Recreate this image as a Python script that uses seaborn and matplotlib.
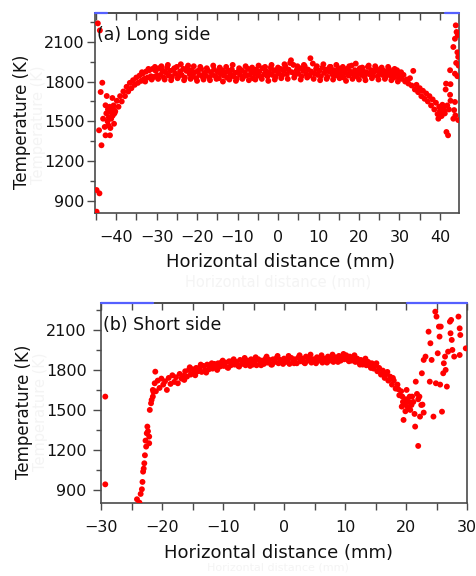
import matplotlib
matplotlib.use("Agg")
import matplotlib.pyplot as plt
import seaborn as sns
import pandas as pd
from matplotlib.ticker import MultipleLocator

# ---------------- data: (a) Long side ----------------
a_band_x = [-41.0,-40.6,-40.2,-39.8,-39.4,-39.0,-38.6,-38.2,-37.8,-37.4,
            -37.0,-36.6,-36.2,-35.8,-35.4,-35.0,-34.6,-34.2,-33.8,-33.4,
            -33.0,-32.6,-32.2,-31.8,-31.4,-31.0,-30.6,-30.2,-29.8,-29.4,
            -29.0,-28.6,-28.2,-27.8,-27.4,-27.0,-26.6,-26.2,-25.8,-25.4,
            -25.0,-24.6,-24.2,-23.8,-23.4,-23.0,-22.6,-22.2,-21.8,-21.4,
            -21.0,-20.6,-20.2,-19.8,-19.4,-19.0,-18.6,-18.2,-17.8,-17.4,
            -17.0,-16.6,-16.2,-15.8,-15.4,-15.0,-14.6,-14.2,-13.8,-13.4,
            -13.0,-12.6,-12.2,-11.8,-11.4,-11.0,-10.6,-10.2,-9.8,-9.4,
            -9.0,-8.6,-8.2,-7.8,-7.4,-7.0,-6.6,-6.2,-5.8,-5.4,
            -5.0,-4.6,-4.2,-3.8,-3.4,-3.0,-2.6,-2.2,-1.8,-1.4,
            -1.0,-0.6,-0.2,0.2,0.6,1.0,1.4,1.8,2.2,2.6,
            3.0,3.4,3.8,4.2,4.6,5.0,5.4,5.8,6.2,6.6,
            7.0,7.4,7.8,8.2,8.6,9.0,9.4,9.8,10.2,10.6,
            11.0,11.4,11.8,12.2,12.6,13.0,13.4,13.8,14.2,14.6,
            15.0,15.4,15.8,16.2,16.6,17.0,17.4,17.8,18.2,18.6,
            19.0,19.4,19.8,20.2,20.6,21.0,21.4,21.8,22.2,22.6,
            23.0,23.4,23.8,24.2,24.6,25.0,25.4,25.8,26.2,26.6,
            27.0,27.4,27.8,28.2,28.6,29.0,29.4,29.8,30.2,30.6,
            31.0,31.4,31.8,32.2,32.6,33.0,33.4,33.8,34.2,34.6,
            35.0,35.4,35.8,36.2,36.6,37.0,37.4,37.8,38.2,38.6,
            39.0,39.4,39.8,40.2,40.6,41.0]
a_band_y = [1540,1620,1575,1655,1610,1690,1650,1725,1690,1760,
            1725,1790,1750,1810,1775,1830,1790,1845,1805,1860,
            1820,1875,1830,1885,1840,1895,1835,1880,1845,1900,
            1850,1885,1830,1870,1905,1845,1880,1835,1890,1860,
            1910,1840,1875,1850,1895,1830,1880,1920,1855,1885,
            1840,1870,1825,1880,1850,1895,1835,1865,1845,1885,
            1830,1870,1850,1890,1840,1875,1825,1860,1885,1845,
            1870,1830,1880,1855,1890,1840,1865,1820,1875,1850,
            1885,1835,1870,1845,1895,1850,1880,1825,1860,1890,
            1845,1875,1835,1900,1855,1880,1840,1870,1905,1850,
            1885,1835,1875,1860,1895,1845,1880,1915,1855,1890,
            1940,1870,1925,1850,1885,1860,1900,1840,1880,1915,
            1855,1890,1845,1875,1935,1860,1895,1850,1880,1840,
            1905,1865,1890,1835,1875,1910,1855,1885,1845,1870,
            1900,1850,1880,1830,1865,1895,1845,1875,1920,1855,
            1885,1840,1870,1900,1850,1880,1835,1870,1910,1855,
            1885,1845,1875,1900,1840,1870,1895,1850,1880,1835,
            1865,1895,1845,1875,1830,1860,1885,1830,1860,1820,
            1850,1800,1815,1785,1825,1770,1880,1740,1775,1720,
            1750,1690,1730,1670,1710,1650,1690,1620,1665,1590,
            1640,1555,1610,1570,1625,1580]

a_extra_x = [-33.6,-32.8,-32.0,-31.2,-30.4,-29.6,-28.8,-28.0,-27.2,-26.4,
             -25.6,-24.8,-24.0,-23.2,-22.4,-21.6,-20.8,-20.0,-19.2,-18.4,
             -17.6,-16.8,-16.0,-15.2,-14.4,-13.6,-12.8,-12.0,-11.2,-10.4,
             -9.6,-8.8,-8.0,-7.2,-6.4,-5.6,-4.8,-4.0,-3.2,-2.4,
             -1.6,-0.8,0.0,0.8,1.6,2.4,3.2,4.0,4.8,5.6,
             6.4,7.2,8.0,8.8,9.6,10.4,11.2,12.0,12.8,13.6,
             14.4,15.2,16.0,16.8,17.6,18.4,19.2,20.0,20.8,21.6,
             22.4,23.2,24.0,24.8,25.6,26.4,27.2,28.0,28.8,29.6,
             30.4]
a_extra_y = [1870,1800,1895,1815,1910,1820,1915,1815,1925,1810,
             1900,1825,1930,1810,1905,1820,1915,1805,1910,1815,
             1900,1810,1920,1820,1905,1800,1910,1815,1925,1805,
             1900,1820,1915,1810,1905,1815,1920,1820,1910,1805,
             1925,1815,1905,1825,1930,1820,1960,1830,1915,1815,
             1925,1830,1975,1820,1915,1810,1930,1820,1910,1815,
             1925,1825,1910,1805,1915,1820,1935,1815,1905,1810,
             1920,1825,1915,1815,1905,1820,1910,1810,1895,1800,
             1870]

a_edge_x = [-44.5,-44.0,-44.8,-44.1,-44.8,-44.2,-43.6,-43.4,-43.8,-42.3,
            -42.6,-43.2,-42.1,-42.8,-42.6,-41.5,-41.3,-40.9,-40.5,-41.8,
            -40.7,-42.4,-41.9,-41.6,-41.2,-40.8,-40.4,-41.4,-42.0,
            41.6,42.0,42.5,42.6,41.5,41.4,42.5,42.6,43.7,43.5,
            43.3,43.8,44.5,43.7,44.3,43.3,43.7,44.1,43.9,44.4,
            44.3,44.5,44.6,44.0,40.4,40.8,41.2,39.6,40.0,41.8,42.2]
a_edge_y = [2238,2185,983,958,820,1433,1320,1791,1721,1691,
            1621,1520,1500,1458,1395,1395,1570,1676,1482,1530,
            1595,1560,1470,1610,1520,1545,1560,1450,1590,
            1420,1395,1885,1780,1784,1740,1700,1655,1646,1585,
            1520,1545,1510,1859,1840,2060,2122,2173,2223,2150,
            2020,1985,1920,1940,1540,1600,1560,1520,1580,1620,1590]

# ---------------- data: (b) Short side ----------------
b_band_x = [-21.0,-20.7,-20.4,-20.1,-19.8,-19.5,-19.2,-18.9,-18.6,-18.3,
            -18.0,-17.7,-17.4,-17.1,-16.8,-16.5,-16.2,-15.9,-15.6,-15.3,
            -15.0,-14.7,-14.4,-14.1,-13.8,-13.5,-13.2,-12.9,-12.6,-12.3,
            -12.0,-11.7,-11.4,-11.1,-10.8,-10.5,-10.2,-9.9,-9.6,-9.3,
            -9.0,-8.7,-8.4,-8.1,-7.8,-7.5,-7.2,-6.9,-6.6,-6.3,
            -6.0,-5.7,-5.4,-5.1,-4.8,-4.5,-4.2,-3.9,-3.6,-3.3,
            -3.0,-2.7,-2.4,-2.1,-1.8,-1.5,-1.2,-0.9,-0.6,-0.3,
            0.0,0.3,0.6,0.9,1.2,1.5,1.8,2.1,2.4,2.7,
            3.0,3.3,3.6,3.9,4.2,4.5,4.8,5.1,5.4,5.7,
            6.0,6.3,6.6,6.9,7.2,7.5,7.8,8.1,8.4,8.7,
            9.0,9.3,9.6,9.9,10.2,10.5,10.8,11.1,11.4,11.7,
            12.0,12.3,12.6,12.9,13.2,13.5,13.8,14.1,14.4,14.7,
            15.0,15.3,15.6,15.9,16.2,16.5,16.8,17.1,17.4,17.7,
            18.0,18.3,18.6,18.9,19.2]
b_band_y = [1640,1720,1665,1735,1690,1715,1650,1740,1695,1760,
            1710,1745,1700,1770,1735,1755,1790,1750,1800,1765,
            1805,1780,1815,1790,1820,1785,1830,1800,1840,1805,
            1835,1810,1845,1820,1850,1825,1860,1830,1855,1820,
            1865,1835,1870,1840,1860,1830,1875,1845,1865,1835,
            1870,1850,1880,1840,1865,1835,1880,1855,1870,1845,
            1885,1855,1875,1840,1880,1860,1890,1850,1875,1855,
            1885,1860,1880,1845,1890,1865,1880,1850,1895,1865,
            1885,1855,1900,1870,1890,1855,1880,1860,1895,1870,
            1890,1855,1885,1865,1900,1870,1890,1860,1895,1875,
            1905,1870,1895,1880,1910,1875,1900,1870,1895,1860,
            1885,1855,1875,1840,1870,1835,1860,1830,1850,1810,
            1835,1790,1815,1765,1795,1740,1770,1720,1750,1690,
            1720,1660,1690,1610,1640]

b_extra_x = [-16.35,-15.45,-14.55,-13.65,-12.75,-11.85,-10.95,-10.05,-9.15,-8.25,
             -7.35,-6.45,-5.55,-4.65,-3.75,-2.85,-1.95,-1.05,-0.15,0.75,
             1.65,2.55,3.45,4.35,5.25,6.15,7.05,7.95,8.85,9.75,
             10.65,11.55,12.45,13.35,14.25,15.15,16.05,16.95,17.85,18.75]
b_extra_y = [1725,1820,1760,1840,1780,1850,1800,1870,1815,1880,
             1825,1890,1830,1895,1835,1900,1840,1905,1845,1905,
             1850,1910,1850,1915,1850,1910,1855,1915,1860,1920,
             1865,1910,1840,1885,1815,1850,1770,1785,1740,1655]

b_edge_x = [-29.3,-29.3,-24.1,-23.7,-23.3,-23.2,-23.1,-22.9,-22.6,-22.5,
            -22.4,-22.1,-22.1,-22.0,-21.7,-21.5,-21.5,-21.1,-21.2,-21.4,
            -21.8,-23.5,-22.8,-22.3,-22.7,-23.0,
            19.3,19.6,20.1,20.9,21.0,21.5,22.0,22.2,22.5,22.3,
            21.6,22.6,22.9,23.2,23.7,24.0,24.2,23.9,24.5,24.8,
            25.0,25.4,25.7,25.5,25.2,24.9,25.6,25.9,26.1,26.2,
            26.4,26.5,26.7,26.9,27.2,27.4,27.3,27.5,27.6,27.9,
            28.6,28.8,28.9,28.8,29.8,
            19.5,19.8,20.0,20.3,20.5,19.4,20.7,21.2,21.8,22.0,
            22.7,22.9,21.4,20.6,19.9,20.2]
b_edge_y = [1600,942,830,805,905,960,1037,1100,1225,1325,
            1375,1300,1250,1500,1575,1600,1650,1787,1700,1635,
            1550,870,1160,1340,1270,1060,
            1525,1425,1650,1537,1600,1375,1230,1600,1537,1450,
            1712,1775,1875,1900,2087,2000,1875,1712,1450,2237,
            2200,2125,2125,2050,1925,1700,1690,1487,1775,1850,
            1900,1800,1675,1937,2162,2175,2075,2025,1950,1900,
            2200,2112,2062,1912,1962,
            1560,1540,1580,1520,1560,1600,1500,1560,1620,1580,
            1540,1480,1470,1600,1490,1560]

a_xticks = [-40, -30, -20, -10, 0, 10, 20, 30, 40]
b_xticks = [-30, -20, -10, 0, 10, 20, 30]
y_ticks = [900, 1200, 1500, 1800, 2100]

df_a = pd.DataFrame({"x": a_band_x + a_extra_x + a_edge_x,
                     "T": a_band_y + a_extra_y + a_edge_y})
df_b = pd.DataFrame({"x": b_band_x + b_extra_x + b_edge_x,
                     "T": b_band_y + b_extra_y + b_edge_y})

sns.set_style("ticks")
plt.rcParams["font.family"] = ["DejaVu Sans"]
plt.rcParams["text.color"] = "#111111"
plt.rcParams["xtick.labelcolor"] = "#111111"
plt.rcParams["ytick.labelcolor"] = "#111111"

W, H = 477, 576
fig = plt.figure(figsize=(W / 100, H / 100), dpi=100)

def fx(px):
    return px / W

def fy(py):
    return 1 - py / H

ghost = "#f4f4f4"
fig.text(fx(39), fy(125), "Temperature (K)", rotation=90, ha="center", va="center",
         fontsize=10.5, color=ghost, zorder=0)
fig.text(fx(278), fy(282), "Horizontal distance (mm)", ha="center", va="center",
         fontsize=10.5, color=ghost, zorder=0)
fig.text(fx(41), fy(412), "Temperature (K)", rotation=90, ha="center", va="center",
         fontsize=10.5, color=ghost, zorder=0)
fig.text(fx(278), fy(568), "Horizontal distance (mm)", ha="center", va="center",
         fontsize=8, color=ghost, zorder=0)

ax1 = fig.add_axes([fx(95), fy(213), (459 - 95) / W, 200 / H])
ax2 = fig.add_axes([fx(101), fy(503), (467 - 101) / W, 200 / H])

spine_col = "#4a4a4a"

def style(ax, df, xlim, ylim, xticks, ypad, label, blue_segs):
    sns.scatterplot(data=df, x="x", y="T", ax=ax, color="#ff0000", s=18,
                    linewidth=0, edgecolor="none", legend=False, zorder=3)
    ax.set_xlim(*xlim)
    ax.set_ylim(*ylim)
    ax.set_xticks(xticks)
    ax.xaxis.set_minor_locator(MultipleLocator(5))
    ax.set_yticks(y_ticks)
    ax.yaxis.set_minor_locator(MultipleLocator(150))
    ax.set_xlabel("")
    ax.set_ylabel("")
    for s in ax.spines.values():
        s.set_visible(True)
        s.set_color(spine_col)
        s.set_linewidth(1.2)
    ax.tick_params(axis="x", which="both", bottom=True, top=False, direction="out",
                   length=5, width=1, color=spine_col, labelsize=11.5, pad=7)
    ax.tick_params(axis="y", which="major", left=True, right=False, direction="out",
                   length=6, width=1, color=spine_col, labelsize=11.5, pad=ypad)
    ax.tick_params(axis="y", which="minor", left=True, right=False, direction="out",
                   length=3.5, width=1, color=spine_col)
    sec = ax.secondary_xaxis("top")
    sec.xaxis.set_major_locator(MultipleLocator(5))
    sec.tick_params(direction="in", length=5, width=1, color=spine_col,
                    labeltop=False)
    sec.spines["top"].set_color(spine_col)
    sec.spines["top"].set_linewidth(1.2)
    for x0, x1 in blue_segs:
        ax.plot([x0, x1], [1, 1], transform=ax.get_xaxis_transform(),
                color="#5560ff", lw=1.6, clip_on=False, zorder=10)
    ax.text(0.006, 0.89, label, transform=ax.transAxes, ha="left", va="center",
            fontsize=12.5, zorder=5)

style(ax1, df_a, (-45.2, 44.7), (810, 2316), a_xticks, 1.5, "(a) Long side",
      [(-45.2, -42.2), (41.2, 44.7)])
style(ax2, df_b, (-30, 30), (802, 2302), b_xticks, 4.3, "(b) Short side",
      [(-30, -21.5), (20.2, 30)])

fig.text(fx(22), fy(122), "Temperature (K)", rotation=90, ha="center", va="center",
         fontsize=12)
fig.text(fx(280), fy(262), "Horizontal distance (mm)", ha="center", va="center",
         fontsize=13)
fig.text(fx(24), fy(412), "Temperature (K)", rotation=90, ha="center", va="center",
         fontsize=12)
fig.text(fx(279), fy(553), "Horizontal distance (mm)", ha="center", va="center",
         fontsize=13)

fig.savefig("out.png", dpi=100)
